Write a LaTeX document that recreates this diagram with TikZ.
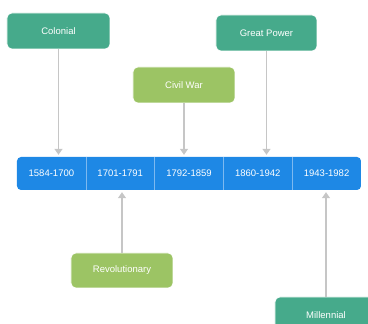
\documentclass[tikz,border=0pt]{standalone}
\usepackage{fontspec}
\setmainfont{Liberation Sans}
\usetikzlibrary{arrows.meta}
\definecolor{cteal}{HTML}{46AA8B}
\definecolor{clime}{HTML}{9CC464}
\definecolor{cblue}{HTML}{1E88E5}
\definecolor{cgray}{HTML}{C6C6C6}
\definecolor{cdiv}{HTML}{7DB9F0}
\begin{document}
\begin{tikzpicture}[x=1pt,y=-1pt,
  box/.style={rounded corners=5pt, minimum width=102pt, minimum height=36pt, inner sep=0pt,
    text=white, font=\fontsize{9.5}{11}\selectfont, draw=white, line width=0.6pt},
  tealbox/.style={box, fill=cteal},
  limebox/.style={box, fill=clime},
  seg/.style={minimum width=68.8pt, minimum height=33pt, inner sep=0pt, text=white,
    font=\fontsize{9.5}{11}\selectfont},
  conn/.style={draw=cgray, line width=1.3pt, -{Triangle[width=8pt,length=6pt]}, shorten >=2pt},
  divider/.style={draw=cdiv, line width=0.8pt}]
\useasboundingbox (0,0) rectangle (368,324);
\clip (0,0) rectangle (368,324);
\fill[cblue, rounded corners=4pt] (17,157) rectangle (361,190);
\node[seg] (s1) at (51.4,173.5) {1584-1700};
\node[seg] (s2) at (120.2,173.5) {1701-1791};
\node[seg] (s3) at (189,173.5) {1792-1859};
\node[seg] (s4) at (257.8,173.5) {1860-1942};
\node[seg] (s5) at (326.6,173.5) {1943-1982};
\draw[divider] (s1.north east) -- (s1.south east);
\draw[divider] (s2.north east) -- (s2.south east);
\draw[divider] (s3.north east) -- (s3.south east);
\draw[divider] (s4.north east) -- (s4.south east);
\node[tealbox, minimum width=103pt] (colonial) at (58.5,31) {Colonial};
\node[limebox] (civil) at (184,85) {Civil War};
\node[tealbox, minimum width=101pt] (great) at (266.5,33) {Great Power};
\node[limebox, minimum height=35pt] (revol) at (122,270.5) {Revolutionary};
\node[tealbox] (mill) at (326,315) {Millennial};
\draw[conn] (colonial.south) -- (colonial.south |- s1.north);
\draw[conn] (civil.south) -- (civil.south |- s3.north);
\draw[conn] (great.south) -- (great.south |- s4.north);
\draw[conn] (revol.north) -- (revol.north |- s2.south);
\draw[conn] (mill.north) -- (mill.north |- s5.south);
\end{tikzpicture}
\end{document}
